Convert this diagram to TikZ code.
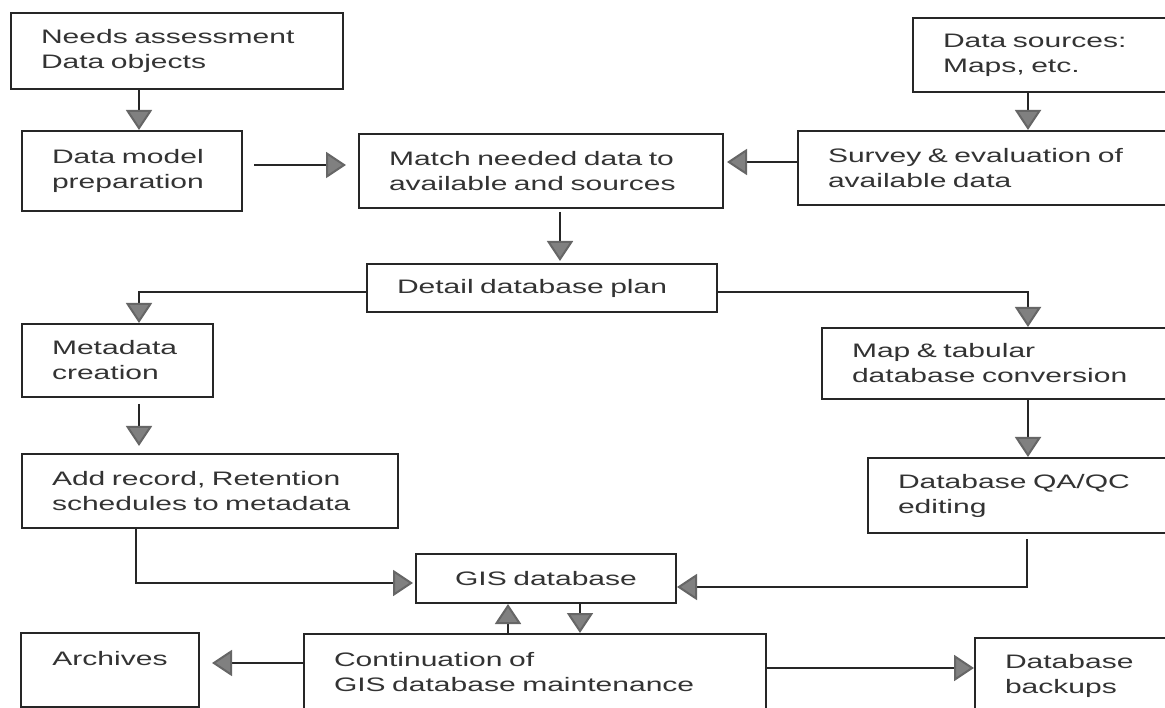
\documentclass[tikz,border=0pt]{standalone}
\usepackage{fontspec}
\setmainfont{Liberation Sans}[FakeStretch=1.54]
\usetikzlibrary{arrows.meta}
\begin{document}
\begin{tikzpicture}[x=1pt,y=-1pt,
  box/.style={draw=black!85, line width=2pt, fill=white, anchor=north west, align=left,
    inner xsep=30pt, inner ysep=0pt, text=black!80, font=\fontsize{19.5}{25}\selectfont},
  arr/.style={draw=black!85, line width=2pt,
    -{Triangle[length=20pt,width=26pt,fill=black!50,color=black!60]}}]
\useasboundingbox (0,0) rectangle (1165,708);
\fill[white] (0,0) rectangle (1165,708);

% boxes
\node[box, text width=272pt, minimum height=76pt] (needs) at (10,12) {Needs assessment\\Data objects};
\node[box, text width=160pt, minimum height=80pt] (dmodel) at (21,130) {Data model\\preparation};
\node[box, text width=304pt, minimum height=74pt] (match) at (358,133) {Match needed data to\\available and sources};
\node[box, text width=200pt, minimum height=74pt] (sources) at (912,17) {Data sources:\\Maps, etc.};
\node[box, text width=315pt, minimum height=74pt] (survey) at (797,130) {Survey \& evaluation of\\available data};
\node[box, text width=290pt, minimum height=48pt] (detail) at (366,263) {Detail database plan};
\node[box, text width=131pt, minimum height=73pt] (meta) at (21,323) {Metadata\\creation};
\node[box, text width=316pt, minimum height=74pt] (addrec) at (21,453) {Add record, Retention\\schedules to metadata};
\node[box, text width=291pt, minimum height=71pt] (maptab) at (821,327) {Map \& tabular\\database conversion};
\node[box, text width=245pt, minimum height=75pt] (qaqc) at (867,457) {Database QA/QC\\editing};
\node[box, text width=200pt, minimum height=49pt, align=center] (gis) at (415,553) {GIS database};
\node[box, text width=402pt, minimum height=97pt, text depth=46pt] (cont) at (303,633) {Continuation of\\GIS database maintenance};
\node[box, text width=118pt, minimum height=74pt, align=center, text depth=24pt] (arch) at (20,632) {Archives};
\node[box, text width=138pt, minimum height=93pt, text depth=46pt] (backup) at (974,637) {Database\\backups};

% helper coordinates
\coordinate (xa) at (139,0);
\coordinate (xb) at (1028,0);
\coordinate (xc) at (560,0);
\coordinate (xd) at (508,0);
\coordinate (xe) at (580,0);
\coordinate (ya) at (0,165);
\coordinate (yb) at (0,162);
\coordinate (yc) at (0,663);
\coordinate (yd) at (0,668);
\coordinate (c1) at (139,292);
\coordinate (c2) at (1028,292);
\coordinate (c3) at (136,583);
\coordinate (c4) at (1027,587);

% connectors
\draw[arr] (needs.south -| xa) -- (dmodel.north -| xa);
\draw[arr, shorten <=11pt, shorten >=12pt] (dmodel.east |- ya) -- (match.west |- ya);
\draw[arr, shorten >=3pt] (survey.west |- yb) -- (match.east |- yb);
\draw[arr] (sources.south -| xb) -- (survey.north -| xb);
\draw[arr, shorten <=3pt, shorten >=2pt] (match.south -| xc) -- (detail.north -| xc);
\draw[arr] (detail.west |- c1) -- (c1) -- (meta.north -| c1);
\draw[arr] (detail.east |- c2) -- (c2) -- (maptab.north -| c2);
\draw[arr, shorten <=6pt, shorten >=7pt] (meta.south -| xa) -- (addrec.north -| xa);
\draw[arr, shorten >=2pt] (addrec.south -| c3) -- (c3) -- (gis.west |- c3);
\draw[arr] (maptab.south -| xb) -- (qaqc.north -| xb);
\draw[arr, shorten <=5pt] (qaqc.south -| c4) -- (c4) -- (gis.east |- c4);
\draw[arr] (cont.north -| xd) -- (gis.south -| xd);
\draw[arr] (gis.south -| xe) -- (cont.north -| xe);
\draw[arr, shorten >=12pt] (cont.west |- yc) -- (arch.east |- yc);
\draw[arr] (cont.east |- yd) -- (backup.west |- yd);
\end{tikzpicture}
\end{document}
